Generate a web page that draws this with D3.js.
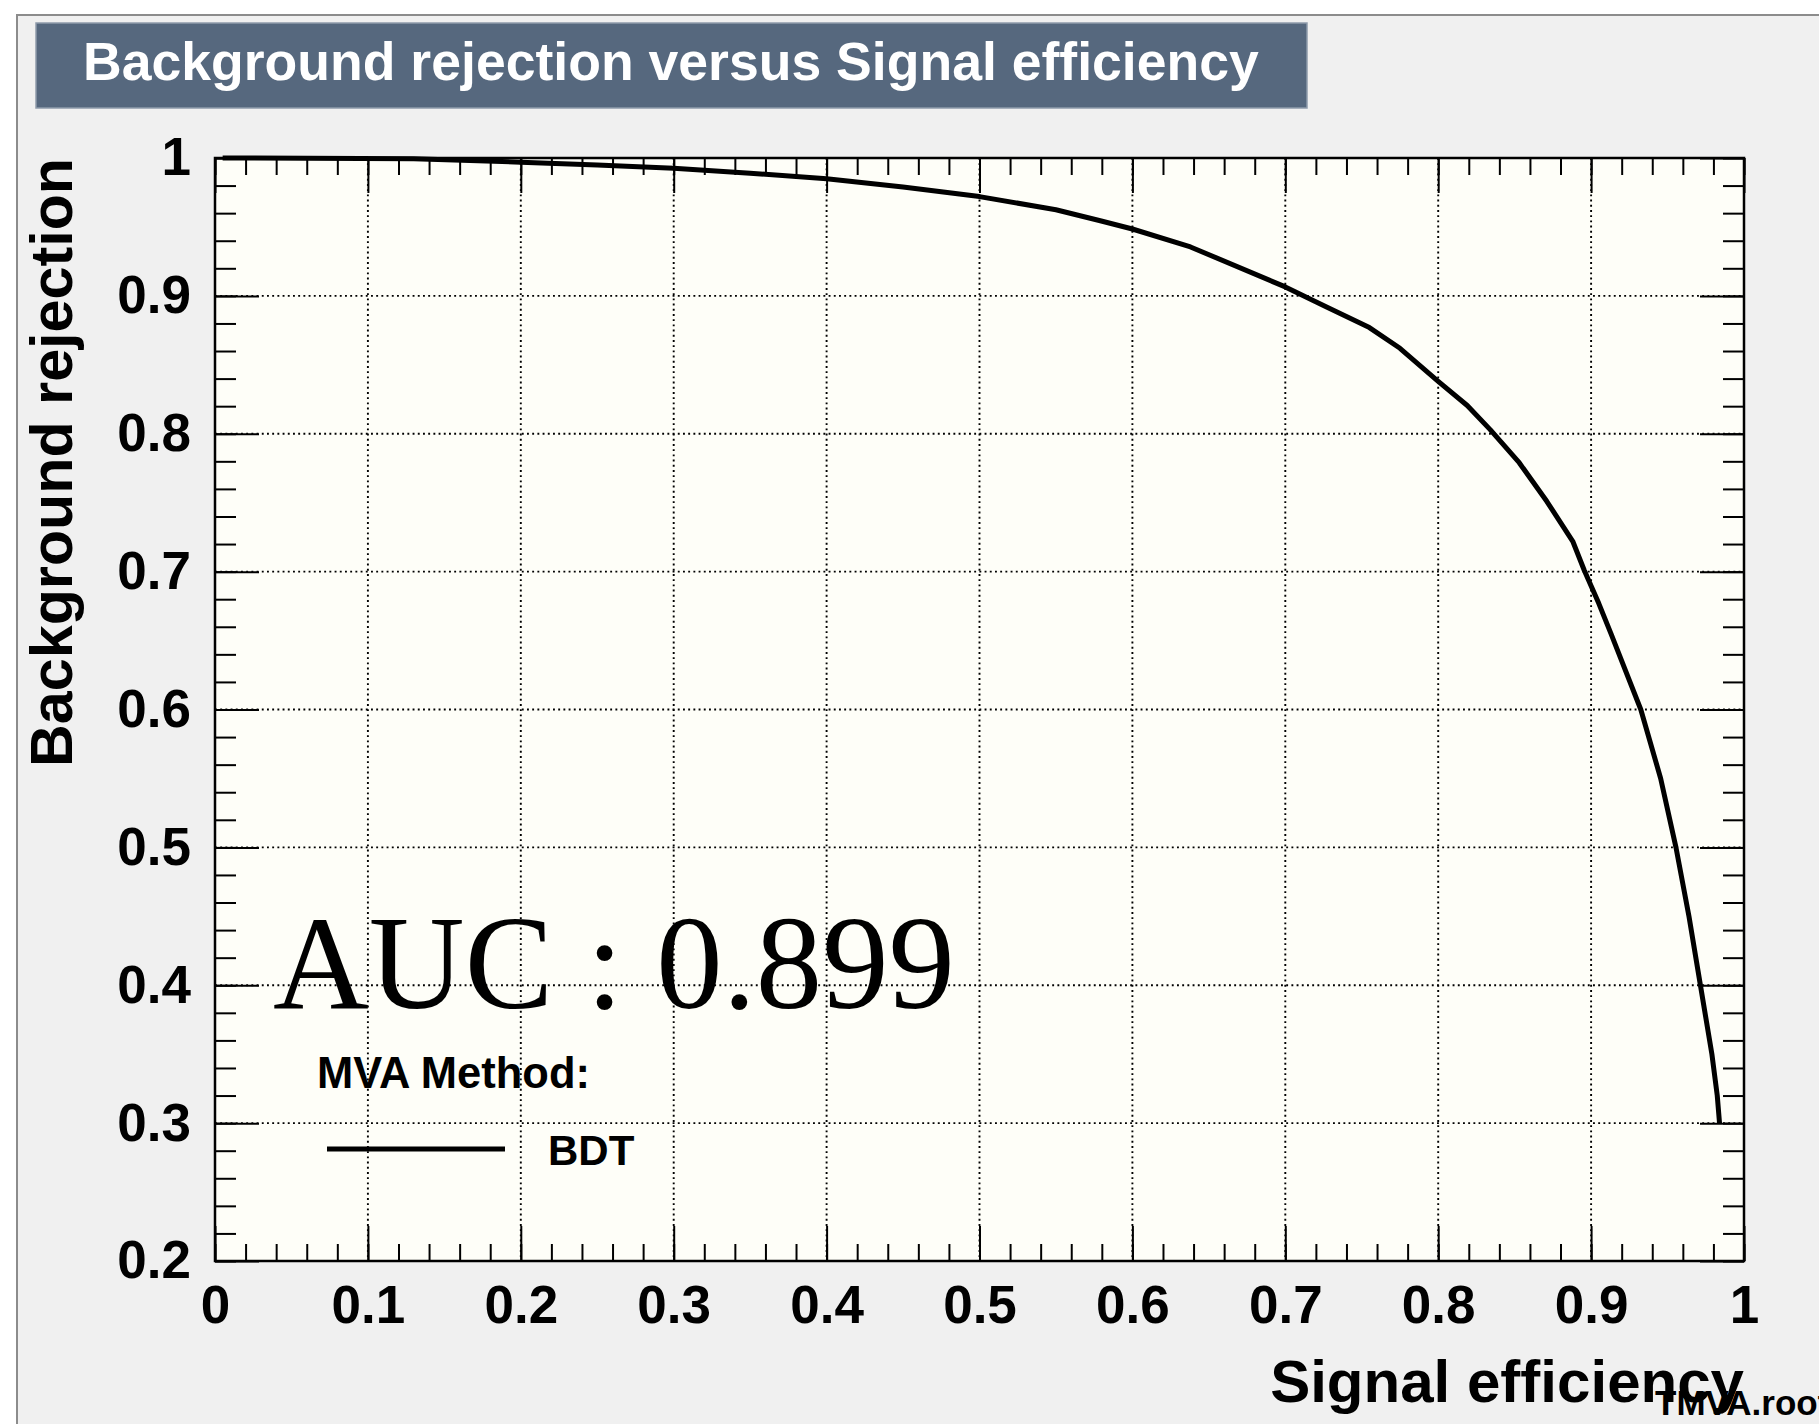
<!DOCTYPE html>
<html>
<head>
<meta charset="utf-8">
<script src="https://cdn.jsdelivr.net/npm/d3@7"></script>
<style>
  html, body { margin: 0; padding: 0; background: #fff; }
  svg { display: block; }
</style>
</head>
<body>
<svg id="chart" width="1819" height="1424"></svg>
<script>
// signal efficiency vs background rejection
var sigEff = [0.005, 0.13, 0.2, 0.25, 0.3, 0.35, 0.4, 0.45, 0.5, 0.55, 0.579, 0.6, 0.638,
              0.7, 0.727, 0.755, 0.775, 0.8, 0.819, 0.834, 0.853, 0.871, 0.888, 0.8955,
              0.905, 0.913, 0.9325, 0.9455, 0.9555, 0.964, 0.9715, 0.979, 0.9825, 0.984];
var bkgRej = [1.0, 0.9995, 0.997, 0.995, 0.9925, 0.989, 0.985, 0.979, 0.972, 0.9625, 0.9545, 0.9485, 0.9355,
              0.9065, 0.892, 0.877, 0.862, 0.838, 0.8205, 0.803, 0.779, 0.751, 0.722, 0.701,
              0.677, 0.655, 0.600, 0.550, 0.500, 0.450, 0.400, 0.350, 0.320, 0.300];

var xTicks = [0, 0.1, 0.2, 0.3, 0.4, 0.5, 0.6, 0.7, 0.8, 0.9, 1];
var xTickLabels = ["0", "0.1", "0.2", "0.3", "0.4", "0.5", "0.6", "0.7", "0.8", "0.9", "1"];
var yTicks = [0.2, 0.3, 0.4, 0.5, 0.6, 0.7, 0.8, 0.9, 1];
var yTickLabels = ["0.2", "0.3", "0.4", "0.5", "0.6", "0.7", "0.8", "0.9", "1"];

var titleText = "Background rejection versus Signal efficiency",
    xTitle = "Signal efficiency",
    yTitle = "Background rejection",
    aucText = "AUC : 0.899",
    legendHeader = "MVA Method:",
    methods = ["BDT"],
    fileTag = "TMVA.root";

var sans = "'Liberation Sans', Arial, Helvetica, sans-serif",
    serif = "'Liberation Serif', 'Times New Roman', serif";

var frame = {left: 215, right: 1744, top: 158, bottom: 1261};

var svg = d3.select("#chart");

// fit a text element to a measured width
function fit(sel, w) {
  var n = sel.node(), cur = n.getComputedTextLength();
  var fs = parseFloat(sel.attr("font-size"));
  sel.attr("font-size", fs * w / cur);
}

// canvas
svg.append("rect")
    .attr("x", 17).attr("y", 15)
    .attr("width", 1819).attr("height", 1424)
    .attr("fill", "#f0f0f0")
    .attr("stroke", "#8c8c8c").attr("stroke-width", 2);

// title box
svg.append("rect")
    .attr("x", 36).attr("y", 23)
    .attr("width", 1271).attr("height", 85)
    .attr("fill", "#56687e")
    .attr("stroke", "#8e9bab").attr("stroke-width", 1.5);

var title = svg.append("text")
    .attr("x", 83).attr("y", 80)
    .attr("font-family", sans).attr("font-weight", "bold")
    .attr("font-size", 50).attr("fill", "#fff")
    .text(titleText);
fit(title, 1176);

var x = d3.scaleLinear().domain([0, 1]).range([frame.left, frame.right]);
var y = d3.scaleLinear().domain([0.2, 1]).range([frame.bottom, frame.top]);

// plot area
svg.append("rect")
    .attr("x", frame.left).attr("y", frame.top)
    .attr("width", frame.right - frame.left).attr("height", frame.bottom - frame.top)
    .attr("fill", "#fefef8");

// grid
var grid = svg.append("g")
    .attr("stroke", "#000").attr("stroke-width", 1.9)
    .attr("stroke-dasharray", "1.9,3.3");
grid.selectAll(".gx").data(xTicks.slice(1, -1)).enter().append("line")
    .attr("x1", function(d) { return x(d); }).attr("x2", function(d) { return x(d); })
    .attr("y1", frame.top).attr("y2", frame.bottom);
grid.selectAll(".gy").data(yTicks.slice(1, -1)).enter().append("line")
    .attr("y1", function(d) { return y(d); }).attr("y2", function(d) { return y(d); })
    .attr("x1", frame.left).attr("x2", frame.right);

var xMinor = d3.range(0, 1.0001, 0.02), yMinor = d3.range(0.2, 1.0001, 0.02);

function styleAxis(g) {
  g.select(".domain").remove();
  g.selectAll("line").attr("stroke", "#000").attr("stroke-width", 2);
  g.selectAll("text")
      .attr("font-family", sans).attr("font-weight", "bold")
      .attr("font-size", 53).attr("fill", "#000");
}

// bottom axis with labels
svg.append("g")
    .attr("transform", "translate(0," + frame.bottom + ")")
    .call(d3.axisBottom(x).tickValues(xTicks).tickSize(-35).tickSizeOuter(0).tickPadding(24)
      .tickFormat(function(d, i) { return xTickLabels[i]; }))
    .call(styleAxis);
svg.append("g")
    .attr("transform", "translate(0," + frame.bottom + ")")
    .call(d3.axisBottom(x).tickValues(xMinor).tickSize(-17).tickSizeOuter(0).tickFormat(""))
    .call(styleAxis);
// top axis, ticks only
svg.append("g")
    .attr("transform", "translate(0," + frame.top + ")")
    .call(d3.axisTop(x).tickValues(xTicks).tickSize(-35).tickSizeOuter(0).tickFormat(""))
    .call(styleAxis);
svg.append("g")
    .attr("transform", "translate(0," + frame.top + ")")
    .call(d3.axisTop(x).tickValues(xMinor).tickSize(-17).tickSizeOuter(0).tickFormat(""))
    .call(styleAxis);

// left axis with labels
svg.append("g")
    .attr("transform", "translate(" + frame.left + ",0)")
    .call(d3.axisLeft(y).tickValues(yTicks).tickSize(-44).tickSizeOuter(0).tickPadding(24)
      .tickFormat(function(d, i) { return yTickLabels[i]; }))
    .call(styleAxis);
svg.append("g")
    .attr("transform", "translate(" + frame.left + ",0)")
    .call(d3.axisLeft(y).tickValues(yMinor).tickSize(-21).tickSizeOuter(0).tickFormat(""))
    .call(styleAxis);
// right axis, ticks only
svg.append("g")
    .attr("transform", "translate(" + frame.right + ",0)")
    .call(d3.axisRight(y).tickValues(yTicks).tickSize(-44).tickSizeOuter(0).tickFormat(""))
    .call(styleAxis);
svg.append("g")
    .attr("transform", "translate(" + frame.right + ",0)")
    .call(d3.axisRight(y).tickValues(yMinor).tickSize(-21).tickSizeOuter(0).tickFormat(""))
    .call(styleAxis);

// frame
svg.append("rect")
    .attr("x", frame.left).attr("y", frame.top)
    .attr("width", frame.right - frame.left).attr("height", frame.bottom - frame.top)
    .attr("fill", "none").attr("stroke", "#000").attr("stroke-width", 2.5);

// ROC curve
var line = d3.line()
    .x(function(d, i) { return x(sigEff[i]); })
    .y(function(d, i) { return y(bkgRej[i]); });
svg.append("path")
    .attr("d", line(sigEff))
    .attr("fill", "none").attr("stroke", "#000")
    .attr("stroke-width", 5).attr("stroke-linejoin", "round");

// axis titles
var xt = svg.append("text")
    .attr("x", frame.right).attr("y", 1402)
    .attr("text-anchor", "end")
    .attr("font-family", sans).attr("font-weight", "bold").attr("font-size", 59)
    .text(xTitle);
fit(xt, 474);

var yt = svg.append("text")
    .attr("transform", "translate(72," + frame.top + ") rotate(-90)")
    .attr("text-anchor", "end")
    .attr("font-family", sans).attr("font-weight", "bold").attr("font-size", 59)
    .text(yTitle);
fit(yt, 609);

// AUC label
var auc = svg.append("text")
    .attr("x", 273).attr("y", 1008)
    .attr("font-family", serif).attr("font-size", 133)
    .text(aucText);
fit(auc, 682);

// legend
var lh = svg.append("text")
    .attr("x", 317).attr("y", 1088)
    .attr("font-family", sans).attr("font-weight", "bold").attr("font-size", 42)
    .text(legendHeader);
fit(lh, 273);

var leg = svg.selectAll(".leg").data(methods).enter().append("g");
leg.append("line")
    .attr("x1", 327).attr("x2", 505)
    .attr("y1", 1149).attr("y2", 1149)
    .attr("stroke", "#000").attr("stroke-width", 5);
leg.append("text")
    .attr("x", 548).attr("y", 1165)
    .attr("font-family", sans).attr("font-weight", "bold").attr("font-size", 42)
    .text(function(d) { return d; });

// file tag in the corner
svg.append("text")
    .attr("x", 1655).attr("y", 1415)
    .attr("font-family", sans).attr("font-weight", "bold").attr("font-size", 35)
    .text(fileTag);
</script>
</body>
</html>
